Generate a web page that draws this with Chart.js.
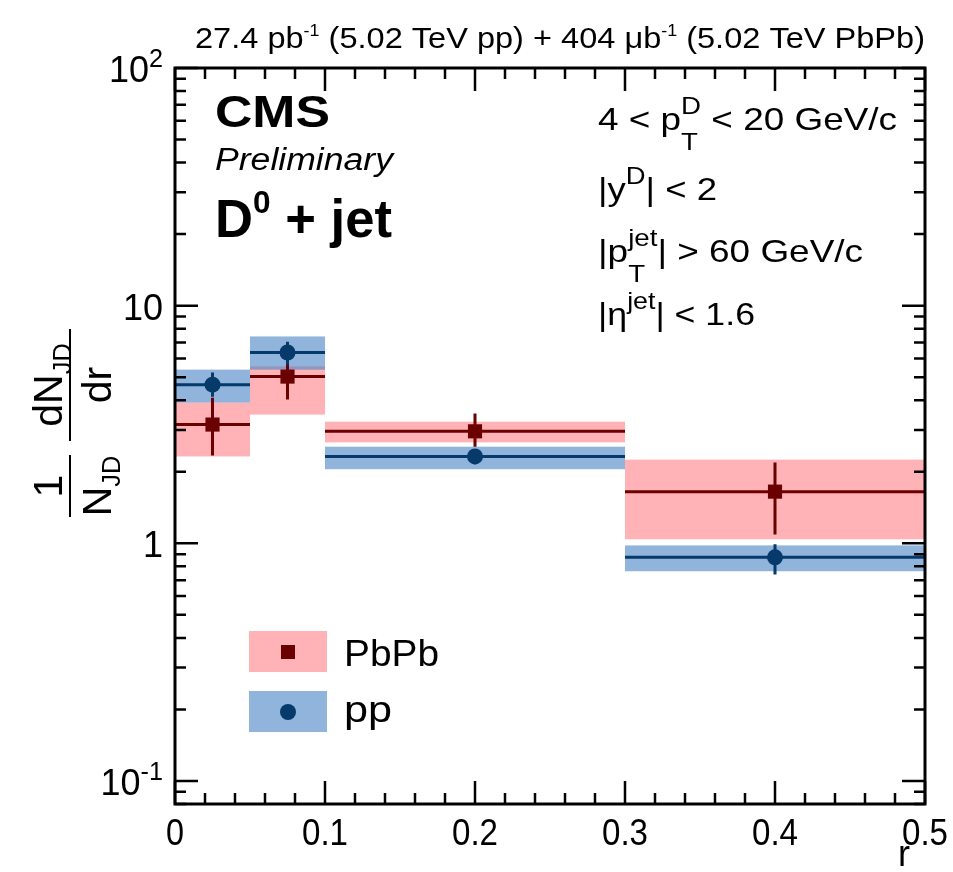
<!DOCTYPE html>
<html>
<head>
<meta charset="utf-8">
<script src="https://cdn.jsdelivr.net/npm/chart.js@4.4.1/dist/chart.umd.min.js"></script>
<style>
  html, body { margin: 0; padding: 0; background: #fff; }
  canvas { display: block; }
</style>
</head>
<body>
<canvas id="c" width="953" height="872"></canvas>
<script>
// bins in r and the measured points
const binLo = [0, 0.05, 0.1, 0.3];
const binHi = [0.05, 0.1, 0.3, 0.5];
const rCenter = [0.025, 0.075, 0.2, 0.4];

const pbpbVal = [3.16, 5.03, 2.96, 1.65];
const pbpbStatLo = [2.34, 4.03, 2.55, 1.09];
const pbpbStatHi = [4.1, 5.94, 3.52, 2.19];
const pbpbSysLo = [2.32, 3.48, 2.66, 1.04];
const pbpbSysHi = [3.91, 5.55, 3.25, 2.25];

const ppVal = [4.65, 6.35, 2.32, 0.873];
const ppStatLo = [4.14, 5.64, 2.15, 0.74];
const ppStatHi = [5.23, 7.05, 2.48, 0.99];
const ppSysLo = [3.91, 5.38, 2.05, 0.763];
const ppSysHi = [5.38, 7.42, 2.55, 0.98];

const xTickVals = [0, 0.1, 0.2, 0.3, 0.4, 0.5];
const xTickLabels = ['0', '0.1', '0.2', '0.3', '0.4', '0.5'];
const yTickVals = [0.1, 1, 10, 100];
const yTickLabels = [['10', '-1'], ['1', ''], ['10', ''], ['10', '2']];

const FAM = '"Liberation Sans", Arial, Helvetica, sans-serif';
const PINK = '#ffb3b6';
const BLUE = 'rgba(70,130,195,0.6)';
const RED = '#6b0000';
const NAVY = '#053a6b';

// draws text made of pieces: plain, superscript, subscript or both stacked
function rich(ctx, segs, x, y, size, style, opts) {
  opts = opts || {};
  const small = size * (opts.scr || 0.72);
  const up = size * (opts.up || 0.45);
  const down = size * (opts.down || 0.2);
  const fBig = style + size + 'px ' + FAM;
  const fSmall = style + small + 'px ' + FAM;
  const widths = segs.map(s => {
    if (s.k === 'ss') {
      ctx.font = fSmall;
      return Math.max(ctx.measureText(s.t[0]).width, ctx.measureText(s.t[1]).width);
    }
    ctx.font = s.k ? fSmall : fBig;
    return ctx.measureText(s.t).width;
  });
  const W = widths.reduce((a, b) => a + b, 0);
  const sx = opts.width ? opts.width / W : 1;
  let x0 = x;
  if (opts.align === 'right') x0 = x - W * sx;
  else if (opts.align === 'center') x0 = x - W * sx / 2;
  ctx.save();
  ctx.translate(x0, y);
  ctx.scale(sx, 1);
  ctx.fillStyle = '#000';
  ctx.textBaseline = 'alphabetic';
  ctx.textAlign = 'left';
  let cx = 0;
  segs.forEach((s, i) => {
    if (s.k === 'ss') {
      ctx.font = fSmall;
      ctx.fillText(s.t[0], cx, -up);
      ctx.fillText(s.t[1], cx, down);
    } else if (s.k === 'sup') {
      ctx.font = fSmall;
      ctx.fillText(s.t, cx, -up);
    } else if (s.k === 'sub') {
      ctx.font = fSmall;
      ctx.fillText(s.t, cx, down);
    } else {
      ctx.font = fBig;
      ctx.fillText(s.t, cx, 0);
    }
    cx += widths[i];
  });
  ctx.restore();
}

const n = t => ({ t });
const sup = t => ({ t, k: 'sup' });
const sub = t => ({ t, k: 'sub' });
const ss = (a, b) => ({ t: [a, b], k: 'ss' });

const bandsPlugin = {
  id: 'bands',
  beforeDatasetsDraw(chart) {
    const ctx = chart.ctx, xs = chart.scales.x, ys = chart.scales.y;
    const a = chart.chartArea;
    ctx.save();
    ctx.beginPath();
    ctx.rect(a.left, a.top, a.right - a.left, a.bottom - a.top);
    ctx.clip();
    const boxes = (lo, hi, col) => {
      ctx.fillStyle = col;
      for (let i = 0; i < binLo.length; i++) {
        const x0 = xs.getPixelForValue(binLo[i]), x1 = xs.getPixelForValue(binHi[i]);
        const y0 = ys.getPixelForValue(hi[i]), y1 = ys.getPixelForValue(lo[i]);
        ctx.fillRect(x0, y0, x1 - x0, y1 - y0);
      }
    };
    const bars = (val, lo, hi, col) => {
      ctx.strokeStyle = col;
      ctx.lineWidth = 3;
      for (let i = 0; i < binLo.length; i++) {
        const y = ys.getPixelForValue(val[i]);
        const xc = xs.getPixelForValue(rCenter[i]);
        ctx.beginPath();
        ctx.moveTo(xs.getPixelForValue(binLo[i]), y);
        ctx.lineTo(xs.getPixelForValue(binHi[i]), y);
        ctx.moveTo(xc, ys.getPixelForValue(hi[i]));
        ctx.lineTo(xc, ys.getPixelForValue(lo[i]));
        ctx.stroke();
      }
    };
    boxes(pbpbSysLo, pbpbSysHi, PINK);
    boxes(ppSysLo, ppSysHi, BLUE);
    bars(pbpbVal, pbpbStatLo, pbpbStatHi, RED);
    bars(ppVal, ppStatLo, ppStatHi, NAVY);
    ctx.restore();
  },
  afterDraw(chart) {
    const ctx = chart.ctx, xs = chart.scales.x, ys = chart.scales.y;
    const a = chart.chartArea;
    ctx.save();
    ctx.strokeStyle = '#000';
    ctx.lineWidth = 3;
    ctx.strokeRect(a.left, a.top, a.right - a.left, a.bottom - a.top);

    // x ticks, top and bottom, pointing inwards
    ctx.lineWidth = 2.5;
    ctx.beginPath();
    for (let k = 0; k <= 25; k++) {
      const v = k * 0.02;
      const px = xs.getPixelForValue(v);
      const len = (k % 5 === 0) ? 23 : 11;
      ctx.moveTo(px, a.bottom); ctx.lineTo(px, a.bottom - len);
      ctx.moveTo(px, a.top); ctx.lineTo(px, a.top + len);
    }
    // y ticks, left and right
    for (let e = -2; e <= 2; e++) {
      for (let m = 1; m <= 9; m++) {
        const v = m * Math.pow(10, e);
        if (v < ys.min - 1e-9 || v > ys.max + 1e-9) continue;
        const py = ys.getPixelForValue(v);
        const len = m === 1 ? 23 : 11;
        ctx.moveTo(a.left, py); ctx.lineTo(a.left + len, py);
        ctx.moveTo(a.right, py); ctx.lineTo(a.right - len, py);
      }
    }
    ctx.stroke();
    ctx.restore();

    // tick labels
    xTickVals.forEach((v, i) => {
      const w = xTickLabels[i].length > 1 ? 46 : 18;
      rich(ctx, [n(xTickLabels[i])], xs.getPixelForValue(v), a.bottom + 41, 37, '', { align: 'center', width: w });
    });
    yTickVals.forEach((v, i) => {
      const lab = yTickLabels[i];
      const segs = lab[1] ? [n(lab[0]), sup(lab[1])] : [n(lab[0])];
      rich(ctx, segs, a.left - 12, ys.getPixelForValue(v) + 14, 36, '', { align: 'right', up: 0.42, scr: 0.7 });
    });

    // axis titles
    rich(ctx, [n('r')], a.right - 15, 866, 36, '', { align: 'right' });

    const frac = (cy, half, top, bottom) => {
      ctx.save();
      ctx.translate(70, cy);
      ctx.rotate(-Math.PI / 2);
      ctx.strokeStyle = '#000';
      ctx.lineWidth = 2;
      ctx.beginPath();
      ctx.moveTo(-half, 0); ctx.lineTo(half, 0);
      ctx.stroke();
      rich(ctx, top, 0, -8, 41, '', { align: 'center', down: 0.22, scr: 0.62 });
      rich(ctx, bottom, 0, 41, 41, '', { align: 'center', down: 0.22, scr: 0.62 });
      ctx.restore();
    };
    frac(486, 31, [n('1')], [n('N'), sub('JD')]);
    frac(385, 56, [n('dN'), sub('JD')], [n('dr')]);

    // luminosity header
    rich(ctx, [n('27.4 pb'), sup('-1'), n(' (5.02 TeV pp) + 404 \u03bcb'), sup('-1'), n(' (5.02 TeV PbPb)')],
      925, 48, 29, '', { align: 'right', width: 730, scr: 0.55, up: 0.42 });

    // CMS label and selection
    rich(ctx, [n('CMS')], 215, 127, 45, 'bold ', { width: 115 });
    rich(ctx, [n('Preliminary')], 215, 170, 31, 'italic ', { width: 178 });
    rich(ctx, [n('D'), sup('0'), n(' + jet')], 215, 237, 53, 'bold ', { width: 177, scr: 0.6, up: 0.45 });

    const cut = { scr: 0.75, up: 0.5, down: 0.62 };
    rich(ctx, [n('4 < p'), ss('D', 'T'), n(' < 20 GeV/c')], 598, 130, 32, '', Object.assign({ width: 299 }, cut));
    rich(ctx, [n('|y'), sup('D'), n('| < 2')], 598, 200, 32, '', Object.assign({ width: 119 }, cut));
    rich(ctx, [n('|p'), ss('jet', 'T'), n('| > 60 GeV/c')], 598, 262, 32, '', Object.assign({ width: 265 }, cut));
    rich(ctx, [n('|\u03b7'), sup('jet'), n('| < 1.6')], 598, 325, 32, '', Object.assign({ width: 157 }, cut));

    // legend
    ctx.save();
    ctx.fillStyle = PINK;
    ctx.fillRect(249, 631, 78, 41);
    ctx.fillStyle = BLUE;
    ctx.fillRect(249, 691, 78, 41);
    ctx.fillStyle = RED;
    ctx.fillRect(281, 645, 14, 14);
    ctx.fillStyle = NAVY;
    ctx.beginPath();
    ctx.arc(288, 712, 8, 0, Math.PI * 2);
    ctx.fill();
    ctx.restore();
    rich(ctx, [n('PbPb')], 344, 666, 36, '', { width: 95 });
    rich(ctx, [n('pp')], 344, 722, 36, '', { width: 48 });
  }
};

new Chart(document.getElementById('c'), {
  type: 'scatter',
  data: {
    datasets: [
      {
        label: 'PbPb',
        data: rCenter.map((x, i) => ({ x, y: pbpbVal[i] })),
        pointStyle: 'rect',
        pointRadius: 10,
        pointBorderWidth: 0,
        backgroundColor: RED,
        borderColor: RED
      },
      {
        label: 'pp',
        data: rCenter.map((x, i) => ({ x, y: ppVal[i] })),
        pointStyle: 'circle',
        pointRadius: 8,
        pointBorderWidth: 0,
        backgroundColor: NAVY,
        borderColor: NAVY
      }
    ]
  },
  options: {
    responsive: false,
    animation: false,
    layout: { padding: { left: 175, right: 28, top: 68, bottom: 68 } },
    scales: {
      x: { type: 'linear', min: 0, max: 0.5, display: false },
      y: { type: 'logarithmic', min: 0.08, max: 100, display: false }
    },
    plugins: { legend: { display: false }, tooltip: { enabled: false } }
  },
  plugins: [bandsPlugin]
});
</script>
</body>
</html>
